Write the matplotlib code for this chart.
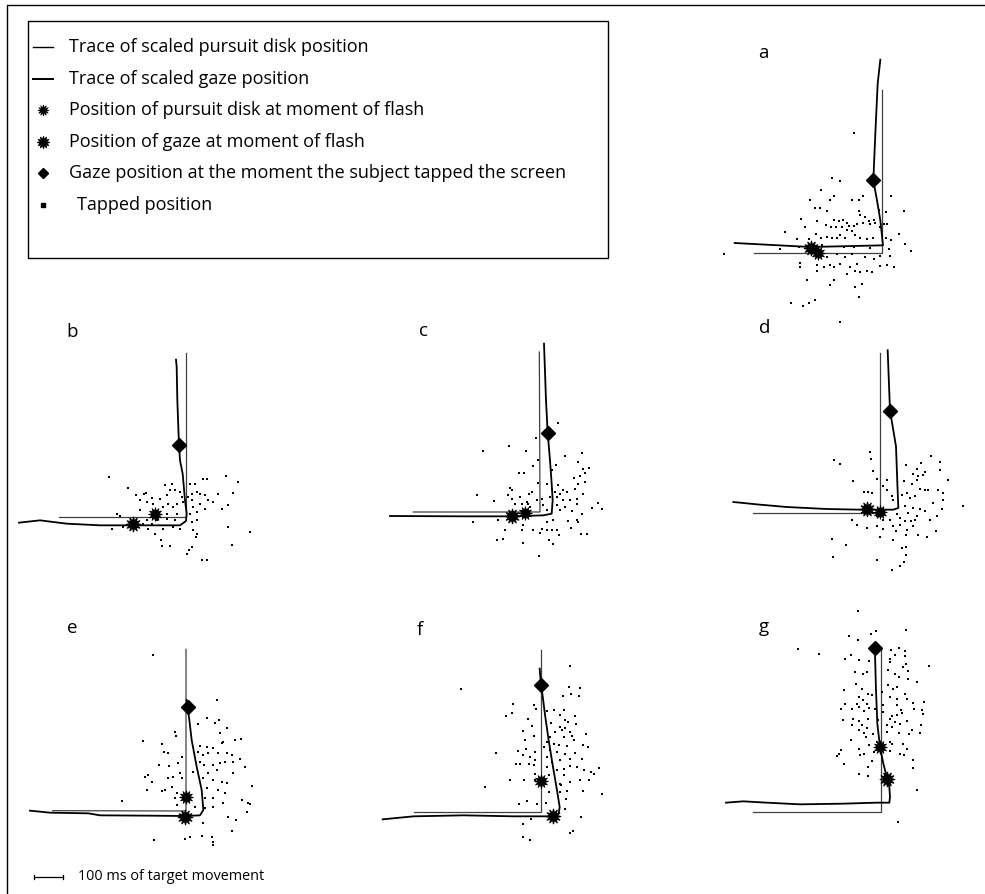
import numpy as np
import matplotlib
matplotlib.use('Agg')
import matplotlib.pyplot as plt
from matplotlib.patches import Rectangle

plt.rcParams['font.family'] = ['Open Sans', 'DejaVu Sans']

W, H = 985, 894
UNITS_PER_PX = 3.0          # panel data are in screen units, 3 per output pixel
SCALE_BAR_MS = 100
UNITS_PER_MS = 0.87         # 100 ms of target movement = 87 units

# ---- data: every panel in its own frame, origin at the pursuit turn point, y up ----
# a
a_pursuit = [(-385, 0), (0, 0), (0, 488)]
a_gaze = [(-442, 30), (-215, 18), (3, 23), (-5, 98), (-15, 158), (-26, 218), (-20, 358), (-13, 508), (-5, 580)]
a_pursuit_star = (-193, 0)
a_gaze_star = (-212, 16)
a_tap_gaze = (-26, 218)
a_taps = [(-85, 361), (-150, 226), (-127, 216), (-182, 188), (-217, 158), (-145, 170), (-157, 158), (-90, 158),
          (-70, 158), (-58, 170), (27, 170), (-200, 136), (-187, 136), (-165, 126), (67, 125), (-243, 103),
          (-10, 130), (13, 122), (-70, 126), (-67, 113), (-145, 98), (-130, 95), (-117, 98), (-105, 90),
          (-195, 95), (-50, 108), (-40, 96), (-25, 98), (-232, 78), (-167, 85), (-153, 78), (-137, 78),
          (-120, 78), (-100, 82), (-85, 80), (-75, 88), (-57, 90), (-35, 88), (-20, 90), (5, 86), (15, 88),
          (-5, 78), (-290, 63), (-255, 43), (-220, 43), (-197, 58), (-183, 46), (-165, 48), (-150, 46),
          (-135, 46), (-125, 53), (-110, 46), (-105, 68), (-90, 66), (-80, 53), (-65, 46), (-45, 43), (-28, 46),
          (13, 46), (50, 58), (27, 38), (70, 28), (-307, 13), (-250, 18), (-180, 23), (-115, 18), (-85, 18),
          (-35, 16), (20, 13), (87, 6), (-475, -2), (-25, -17), (-5, -10), (23, -10), (-245, -30), (-195, -37),
          (-173, -42), (-155, -37), (-143, -42), (-125, -32), (-95, -42), (-82, -54), (-65, -57), (-45, -54),
          (-30, -57), (-5, -40), (15, -37), (37, -42), (-247, -42), (-225, -80), (-155, -97), (-145, -80),
          (-80, -102), (-60, -94), (-70, -132), (-273, -150), (-237, -160), (-220, -150), (-200, -142),
          (-125, -207), (-165, -12), (-110, -12), (-135, -2), (-75, -32), (-90, -2), (-50, -12), (-105, -62),
          (-180, -2), (-195, -54)]

# b
b_pursuit = [(-380, 0), (0, 0), (0, 492)]
b_gaze = [(-501, -17), (-438, -10), (-358, -20), (-258, -25), (-108, -25), (-18, -25), (0, -12), (2, 10),
          (-3, 50), (-10, 130), (-18, 170), (-21, 215), (-26, 350), (-28, 450), (-30, 472)]
b_pursuit_star = (-93, 10)
b_gaze_star = (-158, -22)
b_tap_gaze = (-21, 215)
b_taps = [(-230, 120), (-63, 97), (-43, 100), (12, 100), (27, 100), (52, 115), (64, 115), (120, 123), (157, 105),
          (142, 72), (-173, 87), (-150, 65), (-126, 70), (-120, 72), (-103, 58), (-138, 50), (-118, 45),
          (-98, 40), (-78, 55), (-58, 65), (-48, 80), (-33, 80), (-18, 75), (-13, 60), (7, 60), (17, 70),
          (32, 75), (42, 70), (57, 65), (67, 50), (82, 45), (97, 70), (107, 25), (127, 35), (-68, 30), (-53, 38),
          (-38, 30), (-28, 38), (-8, 45), (17, 50), (22, 30), (42, 38), (57, 25), (32, 15), (12, 10), (-28, 10),
          (-58, 10), (-83, 5), (-138, 20), (-208, 10), (-198, 2), (-118, -8), (-88, -8), (-58, -5), (-33, -8),
          (17, -15), (32, -10), (-223, -35), (-188, -30), (-148, -30), (-113, -35), (-93, -50), (-68, -37),
          (-38, -30), (-18, -35), (22, -40), (32, -50), (29, -60), (127, -30), (192, -45), (-76, -70), (-73, -87),
          (-48, -87), (17, -90), (10, -100), (2, -110), (137, -85), (47, -130), (62, -128), (-103, -22),
          (-128, -20)]

# c
c_pursuit = [(-380, 0), (0, 0), (-2, 480)]
c_gaze = [(-450, -12), (-230, -13), (-85, -13), (10, -10), (35, -5), (38, 35), (35, 85), (30, 155), (23, 238),
          (18, 335), (12, 505)]
c_pursuit_star = (-45, -2)
c_gaze_star = (-85, -13)
c_tap_gaze = (23, 238)
c_taps = [(55, 267), (-172, 182), (-93, 198), (-42, 183), (-12, 222), (75, 167), (125, 177), (113, 150),
          (128, 130), (148, 133), (-20, 138), (-5, 155), (48, 142), (35, 125), (-62, 118), (-48, 118), (103, 103),
          (120, 108), (135, 117), (-5, 87), (20, 85), (115, 85), (135, 90), (-90, 73), (-85, 65), (55, 82),
          (70, 65), (105, 70), (130, 55), (-25, 60), (-32, 55), (35, 70), (45, 60), (60, 55), (80, 60),
          (-188, 52), (-95, 50), (-85, 40), (-60, 45), (-40, 30), (-35, 23), (5, 40), (30, 45), (50, 45), (70, 35),
          (90, 35), (110, 40), (-137, 32), (-75, 25), (-55, 25), (10, 20), (50, 20), (75, 15), (110, 25),
          (175, 27), (155, 13), (185, 8), (20, 5), (60, 5), (95, 2), (125, -5), (-200, -30), (-127, -25),
          (20, -30), (40, -25), (85, -27), (110, -25), (115, -30), (-105, -55), (-52, -40), (-55, -53),
          (-22, -55), (5, -50), (20, -55), (35, -55), (50, -53), (58, -70), (0, -62), (93, -48), (122, -65),
          (140, -65), (-112, -80), (-130, -85), (-52, -93), (28, -85), (40, -97), (-2, -132), (-30, 15),
          (-10, 35)]

# d
d_pursuit = [(-380, 0), (0, 0), (0, 480)]
d_gaze = [(-440, 33), (-360, 25), (-280, 18), (-160, 12), (-60, 10), (40, 10), (55, 15), (52, 90), (48, 200),
          (30, 307), (23, 488)]
d_pursuit_star = (0, 2)
d_gaze_star = (-40, 12)
d_tap_gaze = (30, 307)
d_taps = [(-30, 182), (-137, 158), (-120, 147), (-27, 162), (152, 170), (180, 152), (78, 143), (110, 132),
          (123, 150), (135, 122), (100, 118), (115, 110), (130, 115), (180, 128), (-20, 125), (-8, 102),
          (-82, 97), (20, 100), (73, 95), (97, 87), (110, 100), (205, 100), (120, 72), (135, 70), (145, 68),
          (175, 68), (190, 60), (-48, 62), (-35, 62), (-23, 60), (10, 80), (20, 70), (35, 50), (40, 40), (65, 55),
          (80, 60), (90, 45), (105, 50), (160, 30), (188, 40), (185, 12), (250, 20), (75, 20), (100, 15),
          (120, 12), (135, 5), (50, -3), (85, 0), (110, -10), (172, -10), (150, -22), (-85, -20), (-70, -35),
          (-40, -46), (-10, -10), (10, -20), (30, -20), (60, -15), (75, -25), (92, -23), (105, -22), (-10, -38),
          (8, -48), (40, -40), (60, -35), (80, -50), (100, -40), (48, -55), (78, -65), (113, -65), (140, -72),
          (168, -55), (0, -72), (40, -82), (-145, -78), (-102, -95), (65, -105), (78, -102), (77, -125),
          (-142, -133), (-10, -140), (73, -148), (60, -160), (37, -172)]

# e
e_pursuit = [(-400, 1), (0, 0), (0, 485)]
e_gaze = [(-468, 1), (-408, -5), (-293, -7), (-258, -13), (-108, -14), (-3, -15), (42, -13), (52, 3), (47, 63),
          (32, 133), (17, 213), (10, 273), (5, 313), (2, 333)]
e_pursuit_star = (0, 43)
e_gaze_star = (-3, -17)
e_tap_gaze = (5, 313)
e_taps = [(-100, 468), (94, 333), (62, 278), (37, 260), (87, 263), (99, 273), (122, 250), (102, 235), (-33, 238),
          (-30, 225), (-130, 210), (112, 208), (147, 213), (164, 216), (-73, 201), (42, 195), (62, 193),
          (82, 188), (107, 203), (-65, 178), (-53, 173), (37, 178), (52, 168), (67, 173), (97, 173), (122, 175),
          (137, 168), (162, 155), (177, 133), (-80, 138), (-50, 135), (-23, 143), (-13, 163), (42, 148),
          (54, 138), (82, 138), (102, 143), (117, 148), (142, 148), (-18, 115), (22, 118), (67, 115), (92, 123),
          (142, 113), (-123, 103), (-113, 108), (-103, 88), (-53, 98), (-38, 103), (-13, 98), (52, 98), (82, 93),
          (107, 88), (122, 83), (-118, 63), (-73, 60), (-63, 63), (-43, 73), (-28, 53), (62, 68), (97, 63),
          (117, 55), (199, 75), (-33, 38), (57, 38), (82, 38), (110, 23), (167, 33), (187, 23), (-193, 30),
          (-28, 18), (27, 13), (57, 8), (82, 13), (182, -2), (192, 20), (125, -17), (150, -27), (52, -37),
          (139, -59), (12, -77), (-3, -85), (47, -75), (77, -79), (80, -92), (-96, -87), (82, -102)]

# f
f_pursuit = [(-382, 0), (0, 0), (0, 487)]
f_gaze = [(-475, -22), (-382, -13), (-232, -10), (-82, -13), (36, -13), (53, -5), (56, 15), (48, 65), (36, 135),
          (23, 215), (13, 285), (4, 355), (0, 382), (-4, 430)]
f_pursuit_star = (0, 93)
f_gaze_star = (36, -13)
f_tap_gaze = (0, 382)
f_taps = [(-239, 370), (88, 437), (85, 375), (118, 373), (65, 347), (90, 353), (113, 347), (-84, 325), (-20, 320),
          (-15, 308), (-87, 297), (-104, 287), (18, 303), (38, 307), (56, 290), (68, 307), (103, 287), (-39, 280),
          (73, 275), (81, 270), (106, 265), (-27, 257), (30, 267), (58, 255), (73, 253), (-54, 243), (43, 240),
          (63, 245), (88, 240), (136, 233), (-20, 227), (28, 225), (68, 225), (93, 227), (98, 215), (-47, 215),
          (18, 210), (38, 205), (53, 200), (78, 197), (125, 202), (140, 195), (-70, 183), (-44, 190), (-17, 180),
          (8, 195), (28, 185), (48, 180), (73, 175), (103, 178), (-134, 177), (-54, 170), (-32, 165), (-19, 155),
          (18, 165), (33, 150), (58, 155), (86, 160), (123, 160), (-74, 143), (-62, 143), (-37, 145), (-22, 140),
          (18, 135), (48, 125), (68, 130), (88, 137), (108, 135), (128, 125), (150, 120), (160, 115), (175, 132),
          (-17, 113), (23, 110), (68, 110), (-92, 97), (-52, 97), (-19, 95), (58, 85), (88, 90), (116, 97),
          (143, 97), (-169, 75), (61, 82), (23, 60), (58, 60), (78, 63), (125, 63), (183, 55), (-67, 25),
          (-42, 32), (-12, 23), (16, 28), (76, 38), (71, 8), (-30, -20), (120, -15), (-54, -35), (-55, -75),
          (-32, -83), (88, -63), (96, -57)]

# g
g_pursuit = [(-385, 0), (0, 0), (0, 495)]
g_gaze = [(-465, 28), (-413, 32), (-343, 28), (-243, 23), (-113, 25), (-13, 28), (25, 28), (27, 45), (25, 75),
          (19, 100), (7, 145), (-3, 195), (-11, 265), (-15, 365), (-18, 475), (-18, 493)]
g_pursuit_star = (-3, 195)
g_gaze_star = (19, 100)
g_tap_gaze = (-18, 493)
g_taps = [(-68, 603), (-31, 535), (-16, 542), (-95, 527), (-68, 517), (75, 545), (-248, 488), (-186, 473),
          (30, 485), (55, 492), (72, 483), (-107, 460), (-91, 470), (-65, 455), (-36, 453), (27, 460), (42, 470),
          (72, 467), (27, 450), (65, 435), (74, 443), (145, 437), (-78, 420), (-55, 415), (-43, 420), (22, 425),
          (42, 415), (55, 405), (82, 422), (82, 400), (107, 390), (-75, 385), (-58, 370), (22, 380), (37, 370),
          (49, 375), (-110, 367), (-38, 355), (-28, 350), (2, 360), (27, 345), (47, 340), (72, 353), (77, 340),
          (-65, 345), (-55, 335), (97, 327), (130, 330), (-108, 325), (-73, 325), (-65, 315), (-41, 325),
          (-35, 313), (-18, 310), (7, 320), (47, 320), (59, 307), (99, 310), (-120, 310), (-88, 310), (-51, 303),
          (5, 300), (32, 287), (47, 290), (62, 297), (122, 305), (125, 295), (-113, 277), (-85, 280), (-65, 273),
          (-38, 280), (-8, 275), (27, 280), (42, 270), (57, 265), (79, 272), (-88, 260), (-58, 260), (-43, 253),
          (17, 260), (32, 255), (92, 247), (119, 260), (-65, 245), (-51, 237), (-23, 235), (17, 240), (55, 237),
          (85, 233), (117, 237), (-91, 215), (-45, 225), (-13, 210), (27, 210), (34, 203), (67, 203), (-65, 190),
          (-35, 200), (79, 190), (-120, 185), (-125, 173), (-133, 167), (-63, 170), (-51, 175), (-20, 180),
          (27, 183), (57, 175), (69, 170), (-110, 143), (-40, 135), (-28, 153), (97, 157), (97, 133), (-65, 115),
          (-38, 107), (109, 65), (50, -30)]

panel_data = {
    'a': (a_pursuit, a_gaze, a_pursuit_star, a_gaze_star, a_tap_gaze, a_taps),
    'b': (b_pursuit, b_gaze, b_pursuit_star, b_gaze_star, b_tap_gaze, b_taps),
    'c': (c_pursuit, c_gaze, c_pursuit_star, c_gaze_star, c_tap_gaze, c_taps),
    'd': (d_pursuit, d_gaze, d_pursuit_star, d_gaze_star, d_tap_gaze, d_taps),
    'e': (e_pursuit, e_gaze, e_pursuit_star, e_gaze_star, e_tap_gaze, e_taps),
    'f': (f_pursuit, f_gaze, f_pursuit_star, f_gaze_star, f_tap_gaze, f_taps),
    'g': (g_pursuit, g_gaze, g_pursuit_star, g_gaze_star, g_tap_gaze, g_taps),
}

legend_labels = ['Trace of scaled pursuit disk position',
                 'Trace of scaled gaze position',
                 'Position of pursuit disk at moment of flash',
                 'Position of gaze at moment of flash',
                 'Gaze position at the moment the subject tapped the screen',
                 'Tapped position']

# ---- layout (output pixels, y down) ----
turn_px = {'a': (882, 253), 'b': (186, 517), 'c': (540, 512), 'd': (880, 513),
           'e': (186, 811), 'f': (541, 812), 'g': (881, 812)}
label_px = {'a': (763, 53), 'b': (72, 332), 'c': (423, 331), 'd': (765, 328),
            'e': (72, 628), 'f': (420, 630), 'g': (764, 627)}
XL, YL = (-540, 300), (-240, 640)
STAR = (12, 1, 0)

fig = plt.figure(figsize=(W / 100, H / 100), dpi=100)
bg = fig.add_axes([0, 0, 1, 1])
bg.set_xlim(0, W); bg.set_ylim(H, 0); bg.axis('off')

# outer frame, only its top and left edges are inside the scan
bg.plot([7, 7, W], [H, 5, 5], color='k', lw=1.0)

# legend box
bg.add_patch(Rectangle((28, 21), 580, 237, fill=False, ec='k', lw=1.0))
rows = [47, 78.6, 110, 141.6, 173.4, 205]
bg.plot([33, 53], [rows[0]] * 2, color='k', lw=1.0)
bg.plot([33, 53], [rows[1]] * 2, color='k', lw=1.4)
bg.plot(43, rows[2], marker=STAR, ms=8, color='k', mew=0.5)
bg.plot(43, rows[3], marker=STAR, ms=9, color='k', mew=0.7)
bg.plot(43, rows[4], marker='D', ms=5.5, color='k')
bg.plot(43, rows[5], marker='s', ms=2.4, color='k')
for i, (lab, y) in enumerate(zip(legend_labels, rows)):
    bg.text(77 if i == 5 else 69, y, lab, fontsize=13, va='center', ha='left')

for key, (cx, cy) in turn_px.items():
    pursuit, gaze, p_star, g_star, tap_gaze, taps = panel_data[key]
    w = (XL[1] - XL[0]) / UNITS_PER_PX
    h = (YL[1] - YL[0]) / UNITS_PER_PX
    left = cx + XL[0] / UNITS_PER_PX
    bottom = (H - cy) + YL[0] / UNITS_PER_PX
    ax = fig.add_axes([left / W, bottom / H, w / W, h / H])
    ax.set_xlim(*XL); ax.set_ylim(*YL); ax.axis('off')
    ax.patch.set_alpha(0)

    px, py = np.array(pursuit).T
    gx, gy = np.array(gaze).T
    tx, ty = np.array(taps).T
    ax.plot(px, py, color='0.25', lw=0.9, solid_joinstyle='miter')
    ax.plot(gx, gy, color='k', lw=1.3)
    ax.plot(tx, ty, ls='none', marker='s', ms=1.9, color='k', mew=0)
    ax.plot(*p_star, marker=STAR, ms=10, color='k', mew=0.6)
    ax.plot(*g_star, marker=STAR, ms=11, color='k', mew=0.7)
    ax.plot(*tap_gaze, marker='D', ms=7.5, color='k')

    lx, ly = label_px[key]
    bg.text(lx, ly, key, fontsize=13.5, ha='center', va='center')

    if key == 'e':
        # scale bar drawn in panel units
        x0, y0 = -456, -198
        x1 = x0 + SCALE_BAR_MS * UNITS_PER_MS
        ax.plot([x0, x1], [y0, y0], color='k', lw=0.9)
        ax.plot([x0, x0], [y0 - 6, y0 + 6], color='k', lw=0.9)
        ax.plot([x1, x1], [y0 - 6, y0 + 6], color='k', lw=0.9)

bg.text(78, 877, f'{SCALE_BAR_MS} ms of target movement', fontsize=10.4, va='center', ha='left')

fig.savefig('out.png', dpi=100)
